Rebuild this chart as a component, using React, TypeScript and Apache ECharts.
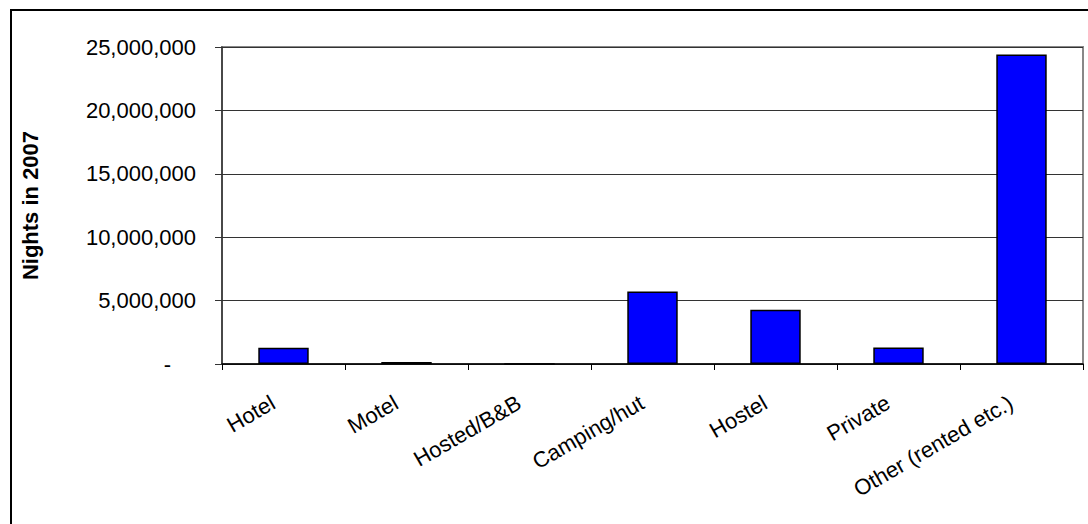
import React, { useEffect, useRef } from "react";
import * as echarts from "echarts";

// Accommodation types and nights spent in 2007
const categories: string[] = [
  "Hotel",
  "Motel",
  "Hosted/B&B",
  "Camping/hut",
  "Hostel",
  "Private",
  "Other (rented etc.)",
];
const nights: number[] = [1290000, 150000, 0, 5720000, 4280000, 1300000, 24400000];

const yMin = 0;
const yMax = 25000000;
const yStep = 5000000;
const yTitle = "Nights in 2007";

const FONT = "'Liberation Sans', Arial, sans-serif";

function formatTick(v: number): string {
  if (v === 0) return "{z|-}";
  return v.toLocaleString("en-US");
}

export default function App() {
  const ref = useRef<HTMLDivElement>(null);

  useEffect(() => {
    if (!ref.current) return;
    const chart = echarts.init(ref.current, null, { renderer: "svg" });
    chart.setOption({
      animation: false,
      backgroundColor: "#ffffff",
      textStyle: { fontFamily: FONT },
      grid: {
        left: 222,
        top: 47,
        right: 5,
        bottom: 160,
        show: true,
        borderColor: "#888888",
        borderWidth: 2,
        backgroundColor: "transparent",
      },
      graphic: [
        {
          type: "line",
          shape: { x1: 11, y1: 10, x2: 11, y2: 524 },
          style: { stroke: "#000000", lineWidth: 2 },
          z: 10,
        },
        {
          type: "line",
          shape: { x1: 10, y1: 10, x2: 1088, y2: 10 },
          style: { stroke: "#000000", lineWidth: 2 },
          z: 10,
        },
      ],
      xAxis: {
        type: "category",
        data: categories,
        boundaryGap: true,
        axisLine: { show: true, lineStyle: { color: "#000000", width: 1.5 } },
        axisTick: {
          show: true,
          alignWithLabel: false,
          length: 6,
          lineStyle: { color: "#000000", width: 1 },
        },
        axisLabel: {
          interval: 0,
          rotate: 30,
          margin: 31,
          padding: [0, 12, 0, 0],
          color: "#000000",
          fontSize: 22,
          fontFamily: FONT,
        },
        splitLine: { show: false },
      },
      yAxis: {
        type: "value",
        min: yMin,
        max: yMax,
        interval: yStep,
        name: yTitle,
        nameLocation: "middle",
        nameRotate: 90,
        nameGap: 181,
        nameTextStyle: {
          color: "#000000",
          fontSize: 22,
          fontWeight: "bold",
          fontFamily: FONT,
        },
        axisLine: { show: true, lineStyle: { color: "#333333", width: 1.5 } },
        axisTick: {
          show: true,
          inside: false,
          length: 7,
          lineStyle: { color: "#333333", width: 1 },
        },
        axisLabel: {
          margin: 26,
          color: "#000000",
          fontSize: 22,
          fontFamily: FONT,
          formatter: formatTick,
          rich: {
            z: {
              color: "#000000",
              fontSize: 22,
              fontFamily: FONT,
              padding: [0, 25, 0, 0],
            },
          },
        },
        splitLine: { show: true, lineStyle: { color: "#333333", width: 1 } },
      },
      series: [
        {
          type: "bar",
          data: nights,
          barCategoryGap: "59%",
          itemStyle: {
            color: "#0000FF",
            borderColor: "#000000",
            borderWidth: 1.5,
          },
        },
      ],
    });
    return () => chart.dispose();
  }, []);

  return (
    <div
      ref={ref}
      style={{
        position: "absolute",
        left: 0,
        top: 0,
        width: 1088,
        height: 524,
        background: "#ffffff",
      }}
    />
  );
}
